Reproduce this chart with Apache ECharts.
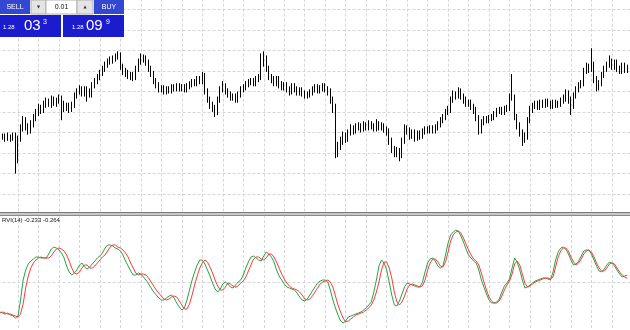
<!DOCTYPE html>
<html><head><meta charset="utf-8">
<script src="https://cdn.jsdelivr.net/npm/echarts@6/dist/echarts.min.js"></script>
<style>html,body{margin:0;padding:0;background:#fff;overflow:hidden}#c{width:630px;height:330px}</style>
</head><body><div id="c"></div><script>
// ---- data ----
const firstBarX = 1;
const open = [
1.2734,1.2735,1.2736,1.2735,1.2736,1.2735,1.2737,1.2714,1.2734,1.2744,
1.2752,1.2746,1.2742,1.2748,1.2754,1.2759,1.2764,1.2762,1.2767,1.2770,
1.2768,1.2772,1.2769,1.2771,1.2774,1.2768,1.2764,1.2766,1.2763,1.2767,
1.2776,1.2780,1.2783,1.2778,1.2782,1.2780,1.2777,1.2786,1.2790,1.2794,
1.2798,1.2802,1.2806,1.2809,1.2810,1.2812,1.2814,1.2817,1.2804,1.2800,
1.2798,1.2795,1.2796,1.2794,1.2802,1.2809,1.2814,1.2812,1.2808,1.2802,
1.2797,1.2790,1.2786,1.2782,1.2783,1.2780,1.2782,1.2781,1.2784,1.2783,
1.2785,1.2783,1.2784,1.2782,1.2785,1.2787,1.2789,1.2788,1.2792,1.2790,
1.2796,1.2780,1.2772,1.2767,1.2764,1.2760,1.2772,1.2782,1.2786,1.2780,
1.2777,1.2774,1.2775,1.2772,1.2777,1.2782,1.2784,1.2787,1.2789,1.2790,
1.2788,1.2792,1.2794,1.2807,1.2812,1.2802,1.2794,1.2792,1.2788,1.2792,
1.2787,1.2784,1.2786,1.2782,1.2780,1.2785,1.2782,1.2779,1.2781,1.2778,
1.2776,1.2777,1.2779,1.2782,1.2784,1.2781,1.2783,1.2785,1.2782,1.2780,
1.2772,1.2764,1.2720,1.2727,1.2732,1.2737,1.2734,1.2740,1.2744,1.2742,
1.2745,1.2746,1.2744,1.2747,1.2745,1.2748,1.2746,1.2744,1.2748,1.2745,
1.2746,1.2743,1.2741,1.2732,1.2724,1.2720,1.2722,1.2718,1.2732,1.2744,
1.2742,1.2737,1.2740,1.2735,1.2739,1.2737,1.2741,1.2743,1.2742,1.2744,
1.2742,1.2745,1.2748,1.2752,1.2755,1.2760,1.2762,1.2772,1.2777,1.2776,
1.2780,1.2775,1.2772,1.2768,1.2769,1.2765,1.2762,1.2754,1.2742,1.2750,
1.2753,1.2752,1.2754,1.2755,1.2758,1.2761,1.2762,1.2760,1.2763,1.2764,
1.2775,1.2774,1.2755,1.2747,1.2740,1.2734,1.2736,1.2752,1.2762,1.2766,
1.2768,1.2765,1.2769,1.2767,1.2770,1.2768,1.2766,1.2769,1.2767,1.2768,
1.2771,1.2773,1.2778,1.2772,1.2766,1.2776,1.2782,1.2786,1.2788,1.2800,
1.2804,1.2802,1.2806,1.2792,1.2784,1.2788,1.2796,1.2802,1.2806,1.2810,
1.2804,1.2808,1.2802,1.2800,1.2805,1.2801];
const close = [
1.2735,1.2736,1.2735,1.2736,1.2735,1.2737,1.2714,1.2734,1.2744,1.2752,
1.2746,1.2742,1.2748,1.2754,1.2759,1.2764,1.2762,1.2767,1.2770,1.2768,
1.2772,1.2769,1.2771,1.2774,1.2768,1.2764,1.2766,1.2763,1.2767,1.2776,
1.2780,1.2783,1.2778,1.2782,1.2780,1.2777,1.2786,1.2790,1.2794,1.2798,
1.2802,1.2806,1.2809,1.2810,1.2812,1.2814,1.2817,1.2804,1.2800,1.2798,
1.2795,1.2796,1.2794,1.2802,1.2809,1.2814,1.2812,1.2808,1.2802,1.2797,
1.2790,1.2786,1.2782,1.2783,1.2780,1.2782,1.2781,1.2784,1.2783,1.2785,
1.2783,1.2784,1.2782,1.2785,1.2787,1.2789,1.2788,1.2792,1.2790,1.2796,
1.2780,1.2772,1.2767,1.2764,1.2760,1.2772,1.2782,1.2786,1.2780,1.2777,
1.2774,1.2775,1.2772,1.2777,1.2782,1.2784,1.2787,1.2789,1.2790,1.2788,
1.2792,1.2794,1.2807,1.2812,1.2802,1.2794,1.2792,1.2788,1.2792,1.2787,
1.2784,1.2786,1.2782,1.2780,1.2785,1.2782,1.2779,1.2781,1.2778,1.2776,
1.2777,1.2779,1.2782,1.2784,1.2781,1.2783,1.2785,1.2782,1.2780,1.2772,
1.2764,1.2720,1.2727,1.2732,1.2737,1.2734,1.2740,1.2744,1.2742,1.2745,
1.2746,1.2744,1.2747,1.2745,1.2748,1.2746,1.2744,1.2748,1.2745,1.2746,
1.2743,1.2741,1.2732,1.2724,1.2720,1.2722,1.2718,1.2732,1.2744,1.2742,
1.2737,1.2740,1.2735,1.2739,1.2737,1.2741,1.2743,1.2742,1.2744,1.2742,
1.2745,1.2748,1.2752,1.2755,1.2760,1.2762,1.2772,1.2777,1.2776,1.2780,
1.2775,1.2772,1.2768,1.2769,1.2765,1.2762,1.2754,1.2742,1.2750,1.2753,
1.2752,1.2754,1.2755,1.2758,1.2761,1.2762,1.2760,1.2763,1.2764,1.2775,
1.2774,1.2755,1.2747,1.2740,1.2734,1.2736,1.2752,1.2762,1.2766,1.2768,
1.2765,1.2769,1.2767,1.2770,1.2768,1.2766,1.2769,1.2767,1.2768,1.2771,
1.2773,1.2778,1.2772,1.2766,1.2776,1.2782,1.2786,1.2788,1.2800,1.2804,
1.2802,1.2806,1.2792,1.2784,1.2788,1.2796,1.2802,1.2806,1.2810,1.2804,
1.2808,1.2802,1.2800,1.2805,1.2801,1.28033];
const low = [
1.2731,1.2733,1.2731,1.2732,1.2731,1.2732,1.2700,1.2710,1.2731,1.2741,
1.2742,1.2738,1.2739,1.2745,1.2751,1.2756,1.2758,1.2759,1.2764,1.2765,
1.2764,1.2766,1.2765,1.2768,1.2752,1.2760,1.2761,1.2759,1.2760,1.2764,
1.2773,1.2777,1.2775,1.2775,1.2770,1.2774,1.2774,1.2783,1.2787,1.2791,
1.2795,1.2799,1.2803,1.2806,1.2807,1.2809,1.2811,1.2801,1.2796,1.2794,
1.2792,1.2791,1.2790,1.2791,1.2799,1.2806,1.2808,1.2805,1.2799,1.2794,
1.2787,1.2783,1.2779,1.2779,1.2777,1.2777,1.2778,1.2778,1.2780,1.2780,
1.2780,1.2780,1.2779,1.2779,1.2782,1.2784,1.2785,1.2785,1.2787,1.2787,
1.2777,1.2769,1.2763,1.2760,1.2755,1.2757,1.2769,1.2779,1.2777,1.2774,
1.2771,1.2771,1.2769,1.2769,1.2774,1.2779,1.2781,1.2784,1.2786,1.2785,
1.2785,1.2789,1.2791,1.2804,1.2799,1.2791,1.2788,1.2785,1.2785,1.2783,
1.2781,1.2781,1.2779,1.2776,1.2777,1.2779,1.2776,1.2776,1.2775,1.2773,
1.2773,1.2774,1.2776,1.2779,1.2778,1.2778,1.2780,1.2779,1.2776,1.2768,
1.2759,1.2715,1.2716,1.2723,1.2728,1.2730,1.2731,1.2737,1.2738,1.2739,
1.2742,1.2740,1.2741,1.2742,1.2742,1.2743,1.2741,1.2741,1.2742,1.2742,
1.2740,1.2737,1.2728,1.2720,1.2716,1.2716,1.2712,1.2715,1.2729,1.2738,
1.2733,1.2734,1.2731,1.2732,1.2733,1.2734,1.2738,1.2739,1.2739,1.2739,
1.2739,1.2742,1.2745,1.2749,1.2752,1.2757,1.2759,1.2769,1.2772,1.2773,
1.2772,1.2768,1.2765,1.2765,1.2762,1.2758,1.2751,1.2738,1.2739,1.2747,
1.2749,1.2749,1.2751,1.2752,1.2755,1.2758,1.2757,1.2757,1.2760,1.2761,
1.2771,1.2752,1.2743,1.2736,1.2727,1.2730,1.2733,1.2749,1.2759,1.2763,
1.2762,1.2762,1.2764,1.2764,1.2765,1.2763,1.2763,1.2764,1.2764,1.2765,
1.2768,1.2770,1.2768,1.2757,1.2763,1.2773,1.2779,1.2783,1.2785,1.2797,
1.2798,1.2799,1.2788,1.2780,1.2781,1.2785,1.2793,1.2799,1.2803,1.2801,
1.2801,1.2799,1.2797,1.2797,1.2798,1.2798];
const high = [
1.2738,1.2739,1.2739,1.2740,1.2738,1.2740,1.2740,1.2737,1.2748,1.2756,
1.2755,1.2749,1.2752,1.2758,1.2763,1.2768,1.2767,1.2771,1.2774,1.2773,
1.2776,1.2775,1.2774,1.2777,1.2776,1.2771,1.2769,1.2769,1.2770,1.2779,
1.2783,1.2786,1.2785,1.2785,1.2785,1.2783,1.2789,1.2793,1.2797,1.2801,
1.2805,1.2809,1.2812,1.2814,1.2815,1.2817,1.2819,1.2818,1.2807,1.2803,
1.2801,1.2799,1.2799,1.2805,1.2812,1.2817,1.2816,1.2815,1.2811,1.2805,
1.2800,1.2793,1.2789,1.2786,1.2786,1.2785,1.2785,1.2787,1.2787,1.2788,
1.2788,1.2787,1.2787,1.2788,1.2790,1.2792,1.2792,1.2795,1.2795,1.2799,
1.2798,1.2783,1.2775,1.2770,1.2767,1.2775,1.2785,1.2790,1.2788,1.2783,
1.2780,1.2778,1.2778,1.2780,1.2785,1.2787,1.2790,1.2792,1.2793,1.2793,
1.2795,1.2797,1.2817,1.2819,1.2815,1.2805,1.2797,1.2795,1.2795,1.2795,
1.2790,1.2789,1.2789,1.2785,1.2788,1.2788,1.2785,1.2784,1.2784,1.2781,
1.2780,1.2782,1.2785,1.2787,1.2787,1.2786,1.2788,1.2788,1.2785,1.2783,
1.2775,1.2768,1.2731,1.2736,1.2741,1.2740,1.2743,1.2748,1.2747,1.2749,
1.2750,1.2749,1.2751,1.2750,1.2752,1.2751,1.2749,1.2753,1.2751,1.2750,
1.2749,1.2746,1.2744,1.2735,1.2727,1.2726,1.2725,1.2735,1.2748,1.2747,
1.2745,1.2743,1.2743,1.2742,1.2742,1.2744,1.2746,1.2746,1.2747,1.2747,
1.2748,1.2751,1.2755,1.2758,1.2763,1.2766,1.2775,1.2781,1.2780,1.2784,
1.2783,1.2778,1.2775,1.2772,1.2772,1.2768,1.2765,1.2757,1.2753,1.2756,
1.2756,1.2757,1.2758,1.2761,1.2764,1.2765,1.2765,1.2766,1.2767,1.2778,
1.2797,1.2777,1.2758,1.2750,1.2743,1.2740,1.2755,1.2766,1.2769,1.2771,
1.2771,1.2772,1.2772,1.2773,1.2773,1.2771,1.2772,1.2772,1.2771,1.2774,
1.2777,1.2782,1.2781,1.2775,1.2779,1.2785,1.2789,1.2791,1.2803,1.2808,
1.2807,1.2822,1.2809,1.2795,1.2791,1.2799,1.2805,1.2809,1.2815,1.2812,
1.2811,1.2811,1.2805,1.2808,1.2808,1.2806];
const rviMain = [
-0.60,-0.61,-0.62,-0.61,-0.63,-0.64,-0.66,-0.64,-0.48,-0.28,
-0.18,-0.12,-0.09,-0.07,-0.05,-0.05,-0.06,-0.06,-0.06,-0.02,
0.03,0.05,0.04,0.02,-0.01,-0.06,-0.14,-0.20,-0.23,-0.21,
-0.18,-0.13,-0.11,-0.15,-0.17,-0.15,-0.12,-0.09,-0.06,-0.04,
-0.01,0.04,0.07,0.07,0.06,0.04,0.03,0.01,-0.03,-0.09,
-0.14,-0.19,-0.23,-0.23,-0.21,-0.22,-0.25,-0.28,-0.32,-0.36,
-0.40,-0.43,-0.46,-0.48,-0.48,-0.46,-0.44,-0.43,-0.46,-0.51,
-0.55,-0.58,-0.56,-0.48,-0.38,-0.28,-0.20,-0.13,-0.08,-0.08,
-0.12,-0.18,-0.24,-0.31,-0.37,-0.40,-0.37,-0.32,-0.30,-0.32,
-0.35,-0.36,-0.33,-0.30,-0.28,-0.23,-0.16,-0.10,-0.05,-0.04,
-0.06,-0.08,-0.09,-0.04,0.00,-0.02,-0.05,-0.10,-0.18,-0.24,
-0.28,-0.32,-0.35,-0.36,-0.37,-0.38,-0.41,-0.45,-0.48,-0.49,
-0.47,-0.43,-0.39,-0.35,-0.31,-0.29,-0.28,-0.28,-0.30,-0.38,
-0.48,-0.56,-0.63,-0.69,-0.71,-0.69,-0.65,-0.64,-0.63,-0.62,
-0.61,-0.60,-0.58,-0.56,-0.53,-0.50,-0.40,-0.28,-0.14,-0.08,
-0.11,-0.18,-0.30,-0.43,-0.53,-0.54,-0.49,-0.42,-0.35,-0.31,
-0.32,-0.33,-0.34,-0.35,-0.35,-0.30,-0.20,-0.11,-0.07,-0.06,
-0.09,-0.14,-0.16,-0.14,-0.03,0.09,0.17,0.20,0.22,0.21,
0.16,0.10,0.03,-0.03,-0.06,-0.09,-0.11,-0.18,-0.28,-0.35,
-0.42,-0.48,-0.51,-0.51,-0.50,-0.47,-0.40,-0.34,-0.31,-0.27,
-0.16,-0.06,-0.10,-0.18,-0.28,-0.36,-0.35,-0.33,-0.31,-0.29,
-0.28,-0.27,-0.26,-0.26,-0.27,-0.28,-0.20,-0.08,0.00,0.04,
0.05,0.03,-0.02,-0.08,-0.13,-0.12,-0.09,-0.04,0.01,0.02,
0.02,-0.02,-0.08,-0.14,-0.19,-0.20,-0.17,-0.13,-0.10,-0.11,
-0.14,-0.18,-0.22,-0.25,-0.24,-0.233];
const rviSignal = [
-0.61,-0.60,-0.61,-0.62,-0.62,-0.63,-0.64,-0.65,-0.62,-0.52,
-0.36,-0.24,-0.16,-0.11,-0.08,-0.06,-0.05,-0.06,-0.06,-0.06,
-0.04,0.00,0.03,0.04,0.03,0.01,-0.03,-0.09,-0.16,-0.21,
-0.22,-0.20,-0.16,-0.13,-0.13,-0.16,-0.16,-0.14,-0.11,-0.08,
-0.05,-0.03,0.01,0.05,0.07,0.07,0.05,0.04,0.02,-0.01,
-0.05,-0.11,-0.16,-0.21,-0.23,-0.22,-0.22,-0.23,-0.26,-0.30,
-0.34,-0.38,-0.41,-0.44,-0.47,-0.48,-0.47,-0.45,-0.44,-0.45,
-0.49,-0.53,-0.57,-0.57,-0.52,-0.43,-0.33,-0.24,-0.16,-0.11,
-0.08,-0.10,-0.15,-0.21,-0.28,-0.34,-0.38,-0.38,-0.35,-0.31,
-0.32,-0.34,-0.35,-0.34,-0.31,-0.29,-0.25,-0.19,-0.13,-0.07,
-0.05,-0.05,-0.07,-0.08,-0.06,-0.02,-0.02,-0.05,-0.10,-0.16,
-0.22,-0.27,-0.31,-0.34,-0.36,-0.37,-0.38,-0.40,-0.43,-0.47,
-0.48,-0.47,-0.44,-0.40,-0.36,-0.32,-0.30,-0.29,-0.28,-0.30,
-0.35,-0.44,-0.53,-0.60,-0.66,-0.70,-0.69,-0.67,-0.65,-0.63,
-0.62,-0.61,-0.60,-0.58,-0.56,-0.53,-0.48,-0.40,-0.30,-0.18,
-0.10,-0.10,-0.16,-0.26,-0.40,-0.50,-0.53,-0.50,-0.44,-0.37,
-0.33,-0.32,-0.33,-0.34,-0.35,-0.34,-0.28,-0.18,-0.11,-0.07,
-0.07,-0.10,-0.14,-0.15,-0.10,0.00,0.11,0.17,0.20,0.21,
0.19,0.14,0.08,0.02,-0.03,-0.07,-0.09,-0.13,-0.21,-0.30,
-0.38,-0.45,-0.49,-0.51,-0.51,-0.49,-0.44,-0.38,-0.33,-0.29,
-0.22,-0.12,-0.09,-0.13,-0.22,-0.31,-0.35,-0.34,-0.32,-0.30,
-0.29,-0.28,-0.27,-0.26,-0.26,-0.27,-0.25,-0.15,-0.05,0.01,
0.04,0.04,0.01,-0.05,-0.10,-0.13,-0.11,-0.07,-0.02,0.01,
0.02,0.00,-0.05,-0.11,-0.16,-0.19,-0.19,-0.16,-0.12,-0.11,
-0.12,-0.16,-0.20,-0.23,-0.25,-0.264];
const rviLabel = 'RVI(14) -0.233 -0.264';
const sellQuote = ['1.28', '03', '3'];
const buyQuote = ['1.28', '09', '9'];
const lotSize = '0.01';
const buttonLabels = ['SELL', 'BUY'];

// ---- chart ----
const candles = close.map((c, i) => [firstBarX + i, open[i], c, low[i], high[i]]);
const mainLine = rviMain.map((v, i) => [firstBarX + i, v]);
const sigLine = rviSignal.map((v, i) => [firstBarX + i, v]);

const gridLine = { show: true, lineStyle: { color: '#d6d6d6', width: 1, type: [3, 2] } };
const hidden = { axisLabel: { show: false }, axisLine: { show: false }, axisTick: { show: false } };

const chart = echarts.init(document.getElementById('c'), null, { renderer: 'canvas', width: 630, height: 330 });

const btnBlue = '#3347d2', quoteBlue = '#1c1ccf';
const uiFont = '"Liberation Sans", Arial, sans-serif';
const graphics = [
  // separator between panels
  { type: 'rect', z: 100, shape: { x: 0, y: 212.5, width: 630, height: 3 }, style: { fill: '#c8c8c8' } },
  { type: 'line', z: 101, shape: { x1: 0, y1: 212.5, x2: 630, y2: 212.5 }, style: { stroke: '#7a7a7a', lineWidth: 1 } },
  { type: 'line', z: 101, shape: { x1: 0, y1: 215.5, x2: 630, y2: 215.5 }, style: { stroke: '#8a8a8a', lineWidth: 1 } },
  // indicator label
  { type: 'text', z: 100, x: 2, y: 217, style: { text: rviLabel, fill: '#111', font: '6px ' + uiFont, textVerticalAlign: 'top' } },
  // one-click trading panel
  { type: 'rect', z: 100, shape: { x: 0, y: 0, width: 30, height: 14 }, style: { fill: btnBlue } },
  { type: 'text', z: 101, x: 15, y: 7, style: { text: buttonLabels[0], fill: '#fff', font: '7px ' + uiFont, textAlign: 'center', textVerticalAlign: 'middle' } },
  { type: 'rect', z: 100, shape: { x: 31, y: 0, width: 15, height: 14 }, style: { fill: '#e4e4e4', stroke: '#b0b0b0', lineWidth: 1 } },
  { type: 'text', z: 101, x: 38.5, y: 7, style: { text: '▼', fill: '#333', font: '4px "DejaVu Sans", sans-serif', textAlign: 'center', textVerticalAlign: 'middle' } },
  { type: 'rect', z: 100, shape: { x: 46, y: 0, width: 31, height: 14 }, style: { fill: '#ffffff', stroke: '#b0b0b0', lineWidth: 1 } },
  { type: 'text', z: 101, x: 61.5, y: 7, style: { text: lotSize, fill: '#111', font: '7px ' + uiFont, textAlign: 'center', textVerticalAlign: 'middle' } },
  { type: 'rect', z: 100, shape: { x: 77, y: 0, width: 16, height: 14 }, style: { fill: '#e4e4e4', stroke: '#b0b0b0', lineWidth: 1 } },
  { type: 'text', z: 101, x: 85, y: 7, style: { text: '▲', fill: '#333', font: '4px "DejaVu Sans", sans-serif', textAlign: 'center', textVerticalAlign: 'middle' } },
  { type: 'rect', z: 100, shape: { x: 94, y: 0, width: 30, height: 14 }, style: { fill: btnBlue } },
  { type: 'text', z: 101, x: 109, y: 7, style: { text: buttonLabels[1], fill: '#fff', font: '7px ' + uiFont, textAlign: 'center', textVerticalAlign: 'middle' } },
  { type: 'rect', z: 100, shape: { x: 0, y: 15, width: 61, height: 22 }, style: { fill: quoteBlue } },
  { type: 'rect', z: 100, shape: { x: 63, y: 15, width: 61, height: 22 }, style: { fill: quoteBlue } },
  { type: 'text', z: 101, x: 3, y: 30, style: { text: sellQuote[0], fill: '#fff', font: '6px ' + uiFont, textVerticalAlign: 'bottom' } },
  { type: 'text', z: 101, x: 24, y: 33, style: { text: sellQuote[1], fill: '#fff', font: '15px ' + uiFont, textVerticalAlign: 'bottom' } },
  { type: 'text', z: 101, x: 43, y: 19, style: { text: sellQuote[2], fill: '#fff', font: '7px ' + uiFont, textVerticalAlign: 'top' } },
  { type: 'text', z: 101, x: 72, y: 30, style: { text: buyQuote[0], fill: '#fff', font: '6px ' + uiFont, textVerticalAlign: 'bottom' } },
  { type: 'text', z: 101, x: 86, y: 33, style: { text: buyQuote[1], fill: '#fff', font: '15px ' + uiFont, textVerticalAlign: 'bottom' } },
  { type: 'text', z: 101, x: 106, y: 19, style: { text: buyQuote[2], fill: '#fff', font: '7px ' + uiFont, textVerticalAlign: 'top' } }
];

chart.setOption({
  animation: false,
  backgroundColor: '#ffffff',
  grid: [
    { left: -2.48, top: -11.35, width: 634.88, height: 226.1, outerBoundsMode: 'none', containLabel: false },
    { left: -2.48, top: 215, width: 634.88, height: 187, outerBoundsMode: 'none', containLabel: false }
  ],
  xAxis: [
    Object.assign({ type: 'value', gridIndex: 0, min: 0, max: 248, interval: 8, splitLine: gridLine }, hidden),
    Object.assign({ type: 'value', gridIndex: 1, min: 0, max: 248, interval: 8, splitLine: gridLine }, hidden)
  ],
  yAxis: [
    Object.assign({ type: 'value', gridIndex: 0, min: 1.2660, max: 1.2880, interval: 0.002, splitLine: gridLine }, hidden),
    Object.assign({ type: 'value', gridIndex: 1, min: -1.5, max: 0.37, interval: 1.2, splitLine: gridLine }, hidden)
  ],
  series: [
    {
      type: 'candlestick', xAxisIndex: 0, yAxisIndex: 0, data: candles,
      encode: { x: 0, y: [1, 2, 3, 4] },
      barWidth: 1,
      itemStyle: { color: '#ffffff', color0: '#000000', borderColor: '#000000', borderColor0: '#000000', borderColorDoji: '#000000', borderWidth: 1 },
      silent: true
    },
    { type: 'line', xAxisIndex: 1, yAxisIndex: 1, data: mainLine, showSymbol: false, symbol: 'none', lineStyle: { color: '#22a546', width: 1 }, silent: true },
    { type: 'line', xAxisIndex: 1, yAxisIndex: 1, data: sigLine, showSymbol: false, symbol: 'none', lineStyle: { color: '#ff3a3a', width: 1 }, silent: true }
  ],
  graphic: graphics
});
</script></body></html>
